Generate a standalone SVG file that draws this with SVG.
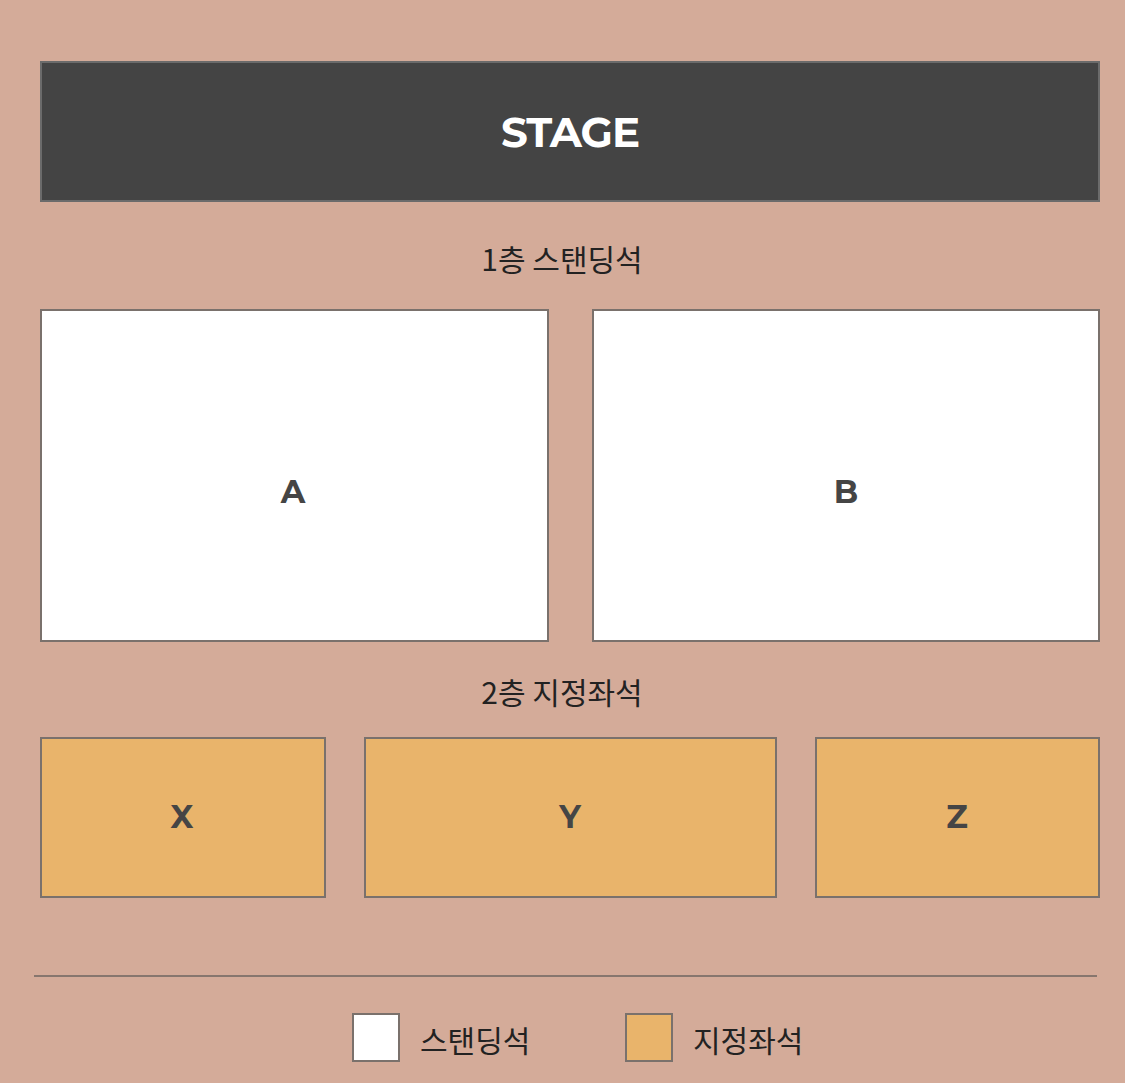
<svg xmlns="http://www.w3.org/2000/svg" width="1125" height="1083" viewBox="0 0 1125 1083">
<style>
.bg{fill:#D4AB99}
.box{stroke:#7a716c;stroke-width:2}
.stand{fill:#ffffff}
.seat{fill:#E9B46B}
.lbl{font-family:"Montserrat","Liberation Sans",Arial,sans-serif;font-weight:bold;fill:#454545;text-anchor:middle}
.kr{font-family:"Noto Sans CJK KR","Noto Sans",sans-serif;fill:#222;font-size:30px}
</style>
<rect class="bg" x="0" y="0" width="1125" height="1083"/>
<g id="stage">
<rect x="41" y="62" width="1058" height="139" fill="#444444" stroke="#6b6b6b" stroke-width="2"/>
<text x="570" y="147" class="lbl" style="fill:#fff;font-size:42px;letter-spacing:-1px">STAGE</text>
</g>
<text x="562" y="271" class="kr" text-anchor="middle">1층 스탠딩석</text>
<g id="A">
<rect class="box stand" x="41" y="310" width="507" height="331"/>
<text x="293" y="503" class="lbl" font-size="32">A</text>
</g>
<g id="B">
<rect class="box stand" x="593" y="310" width="506" height="331"/>
<text x="846" y="503" class="lbl" font-size="32">B</text>
</g>
<text x="562" y="704" class="kr" text-anchor="middle">2층 지정좌석</text>
<g id="X">
<rect class="box seat" x="41" y="738" width="284" height="159"/>
<text x="182" y="828" class="lbl" font-size="32">X</text>
</g>
<g id="Y">
<rect class="box seat" x="365" y="738" width="411" height="159"/>
<text x="570" y="828" class="lbl" font-size="32">Y</text>
</g>
<g id="Z">
<rect class="box seat" x="816" y="738" width="283" height="159"/>
<text x="957" y="828" class="lbl" font-size="32">Z</text>
</g>
<line x1="34" y1="976" x2="1097" y2="976" stroke="#6e6460" stroke-width="1.5"/>
<g id="legend">
<rect class="box stand" x="353" y="1014" width="46" height="47"/>
<text x="420" y="1052" class="kr">스탠딩석</text>
<rect class="box seat" x="626" y="1014" width="46" height="47"/>
<text x="693" y="1052" class="kr">지정좌석</text>
</g>
</svg>
